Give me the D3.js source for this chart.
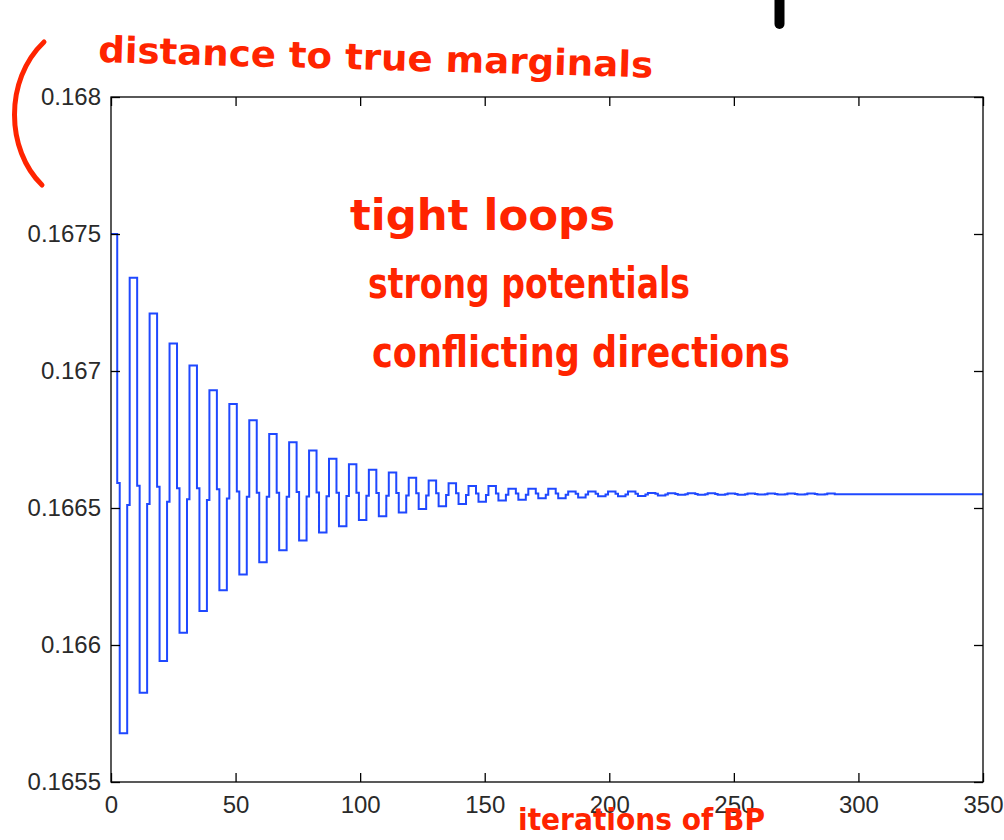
<!DOCTYPE html>
<html>
<head>
<meta charset="utf-8">
<script src="https://cdn.jsdelivr.net/npm/d3@7"></script>
<style>
  body { margin: 0; background: #fff; }
  svg { display: block; }
  .axis .tick text { font-family: "Liberation Sans", Arial, sans-serif; font-size: 24px; fill: #2a2a2a; }
  .axis .tick line { stroke: #000; stroke-width: 1.3; }
  .axis .domain { display: none; }
  .note { font-family: "DejaVu Sans", sans-serif; font-weight: bold; fill: #ff2400; }
</style>
</head>
<body>
<svg width="1004" height="840"></svg>
<script>
// values, one per oscillation cycle (each cycle is 8 iterations:
// 3 at the peak, 1 shoulder, 3 at the trough, 1 shoulder)
const peaks = [0.16750, 0.16734, 0.16721, 0.16710, 0.16702, 0.16693, 0.16688, 0.16682, 0.16677, 0.16674,
               0.16671, 0.16668, 0.16666, 0.16664, 0.16663, 0.16661, 0.16660, 0.16659, 0.16658, 0.16658,
               0.16657, 0.16657, 0.16657, 0.16656, 0.16656, 0.16656, 0.16656, 0.166555, 0.166554, 0.166554,
               0.166554, 0.166553, 0.166553, 0.166553, 0.166553, 0.166553, 0.166553];
const troughs = [0.165678, 0.165826, 0.165942, 0.166045, 0.166124, 0.166200, 0.166257, 0.166302, 0.166346, 0.166381,
                 0.166411, 0.166433, 0.166456, 0.166470, 0.166484, 0.166496, 0.166506, 0.166515, 0.166523, 0.166527,
                 0.166530, 0.166536, 0.166536, 0.166538, 0.166543, 0.166543, 0.166544, 0.166546, 0.166548, 0.166548,
                 0.166548, 0.166548, 0.166549, 0.166549, 0.166549, 0.166549];
const midHigh = [0.166591, 0.166581, 0.166578, 0.166572, 0.166572, 0.166568, 0.166560, 0.166556, 0.166556, 0.166558,
                 0.166557, 0.166556, 0.166556, 0.166555, 0.166555, 0.166554, 0.166554, 0.166554, 0.166553, 0.166553,
                 0.166553, 0.166553, 0.166553, 0.166552, 0.166552, 0.166552, 0.166552, 0.166552, 0.166551, 0.166551,
                 0.166551, 0.166551, 0.166551, 0.166551, 0.166551, 0.166551];
const midLow = [0.166511, 0.166515, 0.166523, 0.166532, 0.166529, 0.166535, 0.166541, 0.166541, 0.166541, 0.166542,
                0.166543, 0.166544, 0.166545, 0.166545, 0.166546, 0.166546, 0.166547, 0.166547, 0.166547, 0.166548,
                0.166548, 0.166548, 0.166548, 0.166549, 0.166549, 0.166549, 0.166549, 0.166549, 0.166550, 0.166550,
                0.166550, 0.166550, 0.166550, 0.166550, 0.166550, 0.166550];
const settled = 0.16655;
const lastIteration = 350;

const xTicks = [0, 50, 100, 150, 200, 250, 300, 350];
const yTicks = [0.1655, 0.166, 0.1665, 0.167, 0.1675, 0.168];

const titleNote = "distance to true marginals";
const reasonNotes = ["tight loops", "strong potentials", "conflicting directions"];
const xNote = "iterations of BP";

// expand the cycles into one value per iteration
let series = [];
peaks.forEach((p, n) => {
    series.push(p, p, p);
    if (n < troughs.length) {
        series.push(midHigh[n], troughs[n], troughs[n], troughs[n], midLow[n]);
    }
});
while (series.length <= lastIteration) series.push(settled);

const margin = {top: 97, right: 21, bottom: 58, left: 111};
const width = 1004 - margin.left - margin.right;
const height = 840 - margin.top - margin.bottom;

let svg = d3.select("svg");
let g = svg.append("g").attr("transform", "translate(" + margin.left + "," + margin.top + ")");

let x = d3.scaleLinear().domain([0, 350]).range([0, width]);
let y = d3.scaleLinear().domain([0.1655, 0.168]).range([height, 0]);

// the data line
g.append("path")
    .datum(series)
    .attr("fill", "none")
    .attr("stroke", "#1f48ff")
    .attr("stroke-width", 2)
    .attr("d", d3.line()
        .x((d, i) => x(i))
        .y(d => y(d))
        .curve(d3.curveStep));

// axes, ticks inside on all four sides
g.append("g").attr("class", "axis")
    .attr("transform", "translate(0," + height + ")")
    .call(d3.axisBottom(x).tickValues(xTicks).tickSizeInner(-9).tickSizeOuter(0).tickPadding(14));
g.append("g").attr("class", "axis")
    .call(d3.axisTop(x).tickValues(xTicks).tickSizeInner(-9).tickSizeOuter(0).tickFormat(""));
g.append("g").attr("class", "axis")
    .call(d3.axisLeft(y).tickValues(yTicks).tickSizeInner(-9).tickSizeOuter(0).tickPadding(10)
        .tickFormat(d3.format(".4~f")));
g.append("g").attr("class", "axis")
    .attr("transform", "translate(" + width + ",0)")
    .call(d3.axisRight(y).tickValues(yTicks).tickSizeInner(-9).tickSizeOuter(0).tickFormat(""));

g.append("rect")
    .attr("width", width)
    .attr("height", height)
    .attr("fill", "none")
    .attr("stroke", "#000")
    .attr("stroke-width", 1.3);

// handwritten annotations
svg.append("text").attr("class", "note")
    .attr("x", 98).attr("y", 62)
    .attr("font-size", 36)
    .attr("textLength", 555).attr("lengthAdjust", "spacingAndGlyphs")
    .attr("transform", "rotate(1.6,98,62)")
    .text(titleNote);

const noteLines = [[350, 230, 265], [368, 298, 322], [372, 367, 418]];
reasonNotes.forEach((t, i) => {
    svg.append("text").attr("class", "note")
        .attr("x", noteLines[i][0]).attr("y", noteLines[i][1])
        .attr("font-size", 42)
        .attr("textLength", noteLines[i][2]).attr("lengthAdjust", "spacingAndGlyphs")
        .text(t);
});

svg.append("text").attr("class", "note")
    .attr("x", 518).attr("y", 830)
    .attr("font-size", 30)
    .attr("textLength", 247).attr("lengthAdjust", "spacingAndGlyphs")
    .text(xNote);

// bracket next to the y axis
svg.append("path")
    .attr("d", "M44,42 C4,80 6,150 42,185")
    .attr("fill", "none")
    .attr("stroke", "#ff2400")
    .attr("stroke-width", 5)
    .attr("stroke-linecap", "round");

// black stroke cut off at the top edge
svg.append("line")
    .attr("x1", 779.5).attr("y1", -10)
    .attr("x2", 779.5).attr("y2", 24)
    .attr("stroke", "#000")
    .attr("stroke-width", 10)
    .attr("stroke-linecap", "round");
</script>
</body>
</html>
